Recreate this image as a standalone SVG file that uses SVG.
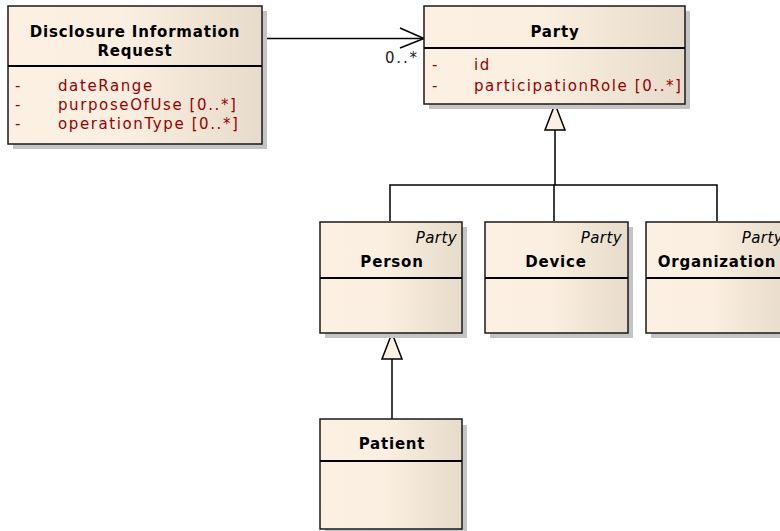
<svg xmlns="http://www.w3.org/2000/svg" width="780" height="531" viewBox="0 0 780 531">
  <defs>
    <linearGradient id="fill" x1="0" y1="0" x2="1" y2="0">
      <stop offset="0" stop-color="#FBF0E1"/>
      <stop offset="0.45" stop-color="#FAEFE0"/>
      <stop offset="1" stop-color="#E7DBCB"/>
    </linearGradient>
    <style>
      .box { fill: url(#fill); stroke: #1a1a1a; stroke-width: 1.5; }
      .shadow { fill: #c4c4c4; }
      .div { stroke: #000; stroke-width: 2; }
      .title { font-family: "DejaVu Sans", Verdana, sans-serif; font-weight: bold; font-size: 15px; fill: #000; text-anchor: middle; letter-spacing: 0.8px; }
      .stereo { font-family: "DejaVu Sans", Verdana, sans-serif; font-style: italic; font-size: 15px; fill: #000; text-anchor: end; letter-spacing: 0.4px; }
      .attr { font-family: "DejaVu Sans", Verdana, sans-serif; font-size: 15px; fill: #990000; letter-spacing: 1.6px; }
      .mult { font-family: "DejaVu Sans", Verdana, sans-serif; font-size: 15px; fill: #222; letter-spacing: 1.8px; }
      .line { fill: none; stroke: #000; stroke-width: 1.5; }
      .tri { fill: #FBF0E1; stroke: #000; stroke-width: 1.5; }
    </style>
  </defs>

  <!-- connectors -->
  <g id="connectors">
    <path class="line" d="M262 38.5 H424"/>
    <path class="line" d="M400 28 L424 38.5 L400 48"/>
    <text class="mult" x="385" y="63">0..*</text>
    <path class="line" d="M555 130 V185 M390 221 V185 H717 V221 M554 185 V221"/>
    <polygon class="tri" points="555,104 545,130 565,130"/>
    <path class="line" d="M392 359 V419"/>
    <polygon class="tri" points="392,333 382,359 402,359"/>
  </g>

  <g id="disclosureInformationRequest">
    <rect class="shadow" x="13" y="11" width="254" height="138"/>
    <rect class="box" x="8" y="6" width="254" height="138"/>
    <line class="div" x1="8" y1="66" x2="262" y2="66"/>
    <text class="title" x="135" y="37">Disclosure Information</text>
    <text class="title" x="135" y="56">Request</text>
    <text class="attr" x="15" y="91">-</text>
    <text class="attr" x="58" y="91">dateRange</text>
    <text class="attr" x="15" y="110">-</text>
    <text class="attr" x="58" y="110">purposeOfUse [0..*]</text>
    <text class="attr" x="15" y="129">-</text>
    <text class="attr" x="58" y="129">operationType [0..*]</text>
  </g>

  <g id="party">
    <rect class="shadow" x="429" y="11" width="261" height="98"/>
    <rect class="box" x="424" y="6" width="261" height="98"/>
    <line class="div" x1="424" y1="48" x2="685" y2="48"/>
    <text class="title" x="555" y="37">Party</text>
    <text class="attr" x="432" y="70">-</text>
    <text class="attr" x="474" y="70">id</text>
    <text class="attr" x="432" y="91">-</text>
    <text class="attr" x="474" y="91">participationRole [0..*]</text>
  </g>

  <g id="person">
    <rect class="shadow" x="325" y="227" width="142" height="111"/>
    <rect class="box" x="320" y="222" width="142" height="111"/>
    <line class="div" x1="320" y1="278" x2="462" y2="278"/>
    <text class="stereo" x="457" y="243">Party</text>
    <text class="title" x="392" y="267">Person</text>
  </g>

  <g id="device">
    <rect class="shadow" x="490" y="227" width="143" height="111"/>
    <rect class="box" x="485" y="222" width="143" height="111"/>
    <line class="div" x1="485" y1="278" x2="628" y2="278"/>
    <text class="stereo" x="622" y="243">Party</text>
    <text class="title" x="556" y="267">Device</text>
  </g>

  <g id="organization">
    <rect class="shadow" x="651" y="227" width="143" height="111"/>
    <rect class="box" x="646" y="222" width="143" height="111"/>
    <line class="div" x1="646" y1="278" x2="789" y2="278"/>
    <text class="stereo" x="783" y="243">Party</text>
    <text class="title" x="717" y="267">Organization</text>
  </g>

  <g id="patient">
    <rect class="shadow" x="325" y="425" width="142" height="110"/>
    <rect class="box" x="320" y="419" width="142" height="110"/>
    <line class="div" x1="320" y1="461" x2="462" y2="461"/>
    <text class="title" x="392" y="449">Patient</text>
  </g>
</svg>
